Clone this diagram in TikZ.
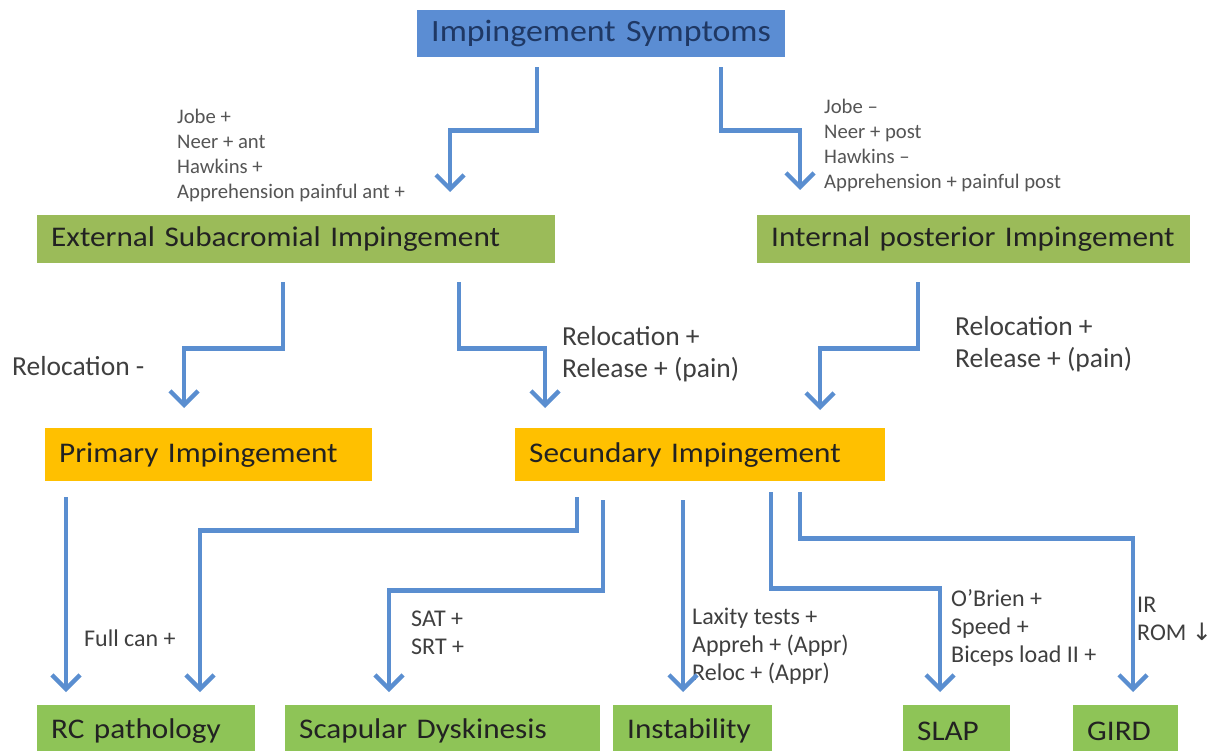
\documentclass[tikz,border=0pt]{standalone}
\usepackage{fontspec}
\setmainfont{Carlito}
\newfontfamily\boxfont{Carlito}[FakeStretch=1.095]
\newfontfamily\symfont{DejaVu Sans}
\usetikzlibrary{arrows.meta,calc}
\definecolor{arrblue}{HTML}{5A8ED0}
\definecolor{titleblue}{HTML}{5B8DD3}
\definecolor{midgreen}{HTML}{9BBB59}
\definecolor{lowgreen}{HTML}{8EC457}
\definecolor{gold}{HTML}{FFC000}
\definecolor{navy}{HTML}{1F3864}
\definecolor{boxtext}{HTML}{222222}
\definecolor{lbltext}{HTML}{3F3F3F}
\definecolor{lbllight}{HTML}{555555}
\begin{document}
\begin{tikzpicture}[x=1pt,y=-1pt,
  boxnode/.style={anchor=north west, inner xsep=14pt, inner ysep=0pt, align=left,
    text=boxtext, font=\boxfont\fontsize{28.5}{33}\selectfont},
  lblbig/.style={inner sep=0pt, align=left, text=lbltext, font=\fontsize{27.5}{32}\selectfont},
  lblmid/.style={inner sep=0pt, align=left, text=lbltext, font=\fontsize{24}{28}\selectfont},
  lblsmall/.style={inner sep=0pt, align=left, text=lbllight, font=\fontsize{20.7}{25}\selectfont},
  arr/.style={draw=arrblue, line width=4.3pt, line join=miter,
    -{Straight Barb[length=14pt,width=28pt]}}
]
\useasboundingbox (0,0) rectangle (1220,751);
\clip (0,0) rectangle (1220,751);
\fill[white] (0,0) rectangle (1220,751);

% boxes
\node[boxnode, fill=titleblue, text=navy, text width=340pt, minimum height=47pt,
  font=\boxfont\fontsize{31}{36}\selectfont] (title) at (417,10) {Impingement~Symptoms};
\node[boxnode, fill=midgreen, text width=490pt, minimum height=48pt] (ext) at (37,215) {External~Subacromial~Impingement};
\node[boxnode, fill=midgreen, text width=405pt, minimum height=48pt] (int) at (757,215) {Internal~posterior~Impingement};
\node[boxnode, fill=gold, text width=299pt, minimum height=53pt] (prim) at (45,428) {Primary~Impingement};
\node[boxnode, fill=gold, text width=342pt, minimum height=53pt] (sec) at (515,428) {Secundary~Impingement};
\node[boxnode, fill=lowgreen, text width=190pt, minimum height=52pt] (rc) at (37,705) {RC~pathology};
\node[boxnode, fill=lowgreen, text width=287pt, minimum height=52pt] (scap) at (285,705) {Scapular~Dyskinesis};
\node[boxnode, fill=lowgreen, text width=131pt, minimum height=52pt] (inst) at (613,705) {Instability};
\node[boxnode, fill=lowgreen, text width=79pt, minimum height=52pt] (slap) at (903,705) {SLAP};
\node[boxnode, fill=lowgreen, text width=77pt, minimum height=52pt] (gird) at (1073,705) {GIRD};

% labels
\node[lblsmall, anchor=north west] (lt) at (177,109) {Jobe +\\Neer + ant\\Hawkins +\\Apprehension painful ant +};
\node[lblsmall, anchor=north west] (rt) at (824,99) {Jobe --\\Neer + post\\Hawkins --\\Apprehension + painful post};
\node[lblbig, anchor=west] (relneg) at (12,366) {Relocation -};
\node[lblbig, anchor=north west] (relposl) at (562,326) {Relocation +\\Release + (pain)};
\node[lblbig, anchor=north west] (relposr) at (955,316) {Relocation +\\Release + (pain)};
\node[lblmid, anchor=west] (fullcan) at (84,638) {Full can +};
\node[lblmid, anchor=north west] (sat) at (411,611) {SAT +\\SRT +};
\node[lblmid, anchor=north west] (lax) at (692,608) {Laxity tests +\\Appreh + (Appr)\\Reloc + (Appr)};
\node[lblmid, anchor=north west] (obr) at (951,589) {O’Brien +\\Speed +\\Biceps load II +};
\node[lblmid, anchor=north west] (ir) at (1137,597) {IR\\ROM {\symfont ↓}};

% connectors
\draw[arr] ($(title.south west)+(120,10)$) -- ++(0,63) -| ($(ext.north west)+(413,-23)$);
\draw[arr] ($(title.south west)+(304,10)$) -- ++(0,63) -| ($(int.north west)+(43,-25)$);
\draw[arr] ($(ext.south west)+(246,19)$) -- ++(0,66) -| ($(prim.north west)+(139,-20)$);
\draw[arr] ($(ext.south west)+(422,19)$) -- ++(0,66) -| ($(sec.north west)+(30,-20)$);
\draw[arr] ($(int.south west)+(161,19)$) -- ++(0,66) -| ($(sec.north west)+(305,-18)$);
\draw[arr] ($(prim.south west)+(21,16)$) -- ($(rc.north west)+(29,-13)$);
\draw[arr] ($(sec.south west)+(62,16)$) -- ++(0,33) -| ($(rc.north west)+(163,-13)$);
\draw[arr] ($(sec.south west)+(88,19)$) -- ++(0,90) -| ($(scap.north west)+(104,-13)$);
\draw[arr] ($(sec.south west)+(168,19)$) -- ($(inst.north west)+(70,-13)$);
\draw[arr] ($(sec.south west)+(256,11)$) -- ++(0,96) -| ($(slap.north west)+(37,-13)$);
\draw[arr] ($(sec.south west)+(285,11)$) -- ++(0,46) -| ($(gird.north west)+(60,-13)$);
\end{tikzpicture}
\end{document}
